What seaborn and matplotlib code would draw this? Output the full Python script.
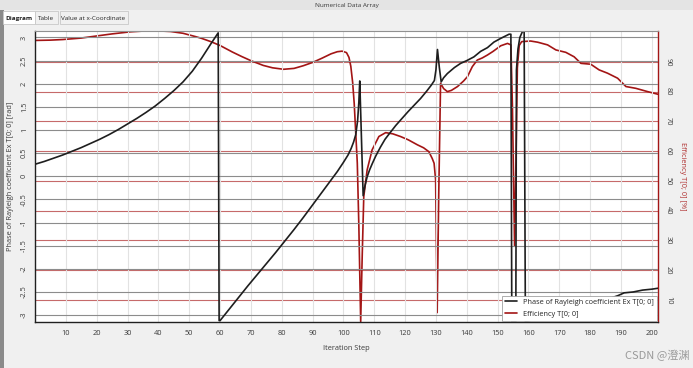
import matplotlib
matplotlib.use("Agg")
import matplotlib.pyplot as plt
import numpy as np
import seaborn as sns

# %% data
phase_step = [0, 3, 6, 9, 12, 15, 18, 21, 24, 27, 30, 33, 36, 39, 42, 45, 48, 51, 54, 57, 59.4, 59.7,
              60, 63, 66, 69, 72, 75, 78, 81, 84, 87, 90, 93, 96, 98, 100, 101.5, 102.5, 103.3,
              104, 104.6, 105, 105.3, 106.4,
              107, 107.7, 108.5, 109.4, 110.5, 112, 113.5, 115, 117, 119, 121, 123, 125, 127,
              128.5, 129.5, 130, 130.5, 131.1, 131.7, 132.5, 133.7, 136, 138, 140, 142.3, 144.5,
              146.7, 148.8, 151, 153.7, 154.3, 154.6,
              155.9, 156.1, 156.6, 157.2, 158, 158.6, 159, 175, 189, 191, 194, 197, 200, 202]
phase_rad = [0.26, 0.32, 0.39, 0.46, 0.54, 0.62, 0.71, 0.8, 0.9, 1.01, 1.13, 1.25, 1.38, 1.52, 1.68, 1.85, 2.04, 2.27, 2.55, 2.86, 3.1, -3.12,
             -3.12, -2.87, -2.62, -2.37, -2.13, -1.89, -1.65, -1.4, -1.15, -0.89, -0.62, -0.35, -0.08, 0.1, 0.3, 0.46, 0.6, 0.74,
             0.9, 1.2, 1.6, 2.06, -0.42,
             -0.2, -0.01, 0.14, 0.28, 0.44, 0.63, 0.8, 0.93, 1.1, 1.25, 1.4, 1.54, 1.68, 1.84,
             1.97, 2.07, 2.3, 2.74, 2.35, 2.04, 2.13, 2.22, 2.35, 2.44, 2.5, 2.58, 2.7,
             2.78, 2.9, 2.98, 3.07, 3.07, -3.14,
             -3.14, 2.3, 2.75, 3.0, 3.12, 3.14, -3.14, -2.9, -2.58, -2.52, -2.5, -2.46, -2.44, -2.42]

eff_step = [0, 5, 9, 15, 20, 25, 31, 36, 40, 44, 48, 52, 54, 57, 60, 64, 67, 70, 74, 77, 80.6,
            84, 87, 90, 93, 96, 98, 99.6, 101, 101.8, 102.4, 103, 103.5, 104, 104.5, 105, 105.6,
            106.1, 106.6, 107.7, 109.3, 111.5, 113.7, 116, 118.5, 121, 124, 126, 127.7, 128.8,
            129.4, 129.9, 130.4, 130.9, 131.5, 132.5, 133.7, 135, 137, 139, 140.2, 141.8, 143.4,
            145, 146.7, 148.5, 151, 153.2, 154.3, 154.8, 155.5, 156, 156.4, 157, 157.8, 160.7,
            163, 166.2, 168.9, 172.1, 174.8, 177, 180.2, 182.9, 185.6, 188.9, 191.6, 194.8,
            198.6, 202]
eff_pct = [97.2, 97.3, 97.5, 98.0, 98.7, 99.4, 100.1, 100.4, 100.4, 100.2, 99.6, 98.5, 97.9, 96.8, 95.5, 93.3, 91.8, 90.4, 88.8, 88.0, 87.5,
           87.8, 88.7, 89.8, 91.2, 92.7, 93.4, 93.6, 93.1, 91.5, 88.5, 83.0, 76.0, 66.0, 56.0, 35.0, 2.66,
           25.0, 44.7, 53.7, 60.4, 64.9, 66.2, 65.8, 64.9, 63.8, 62.1, 61.1, 59.8, 57.5,
           55.9, 50.3, 5.7, 45.0, 82.8, 81.0, 80.0, 80.4, 81.7, 83.6, 85.0, 88.4, 90.6,
           91.3, 92.3, 93.5, 95.4, 96.2, 95.7, 75.0, 28.0, 60.0, 88.0, 95.5, 96.8, 97.0,
           96.6, 95.7, 94.0, 93.2, 91.7, 89.5, 89.2, 87.3, 86.2, 84.5, 81.7, 81.1,
           80.0, 79.1]

x_ticks = list(range(10, 201, 10))
phase_ticks = [-3, -2.5, -2, -1.5, -1, -0.5, 0, 0.5, 1, 1.5, 2, 2.5, 3]
eff_ticks = [10, 20, 30, 40, 50, 60, 70, 80, 90]

phase_label = "Phase of Rayleigh coefficient Ex T[0; 0]"
eff_label = "Efficiency T[0; 0]"

# %% style
sns.set_style("white")
plt.rcParams["font.family"] = ["Open Sans", "DejaVu Sans"]

BLACK = "#1e1e1e"
RED = "#a31515"
txt = "#3a3a3a"

fig = plt.figure(figsize=(6.93, 3.68), dpi=100, facecolor="#f0f0f0")

# window chrome: title bar + tabs
fig.patches.append(plt.Rectangle((0, 0.972), 1, 0.028, transform=fig.transFigure,
                                 facecolor="#e4e4e4", edgecolor="none"))
fig.text(0.5, 0.986, "Numerical Data Array", ha="center", va="center",
         fontsize=4.6, color=txt)
fig.patches.append(plt.Rectangle((0.0, 0.0), 0.006, 0.972, transform=fig.transFigure,
                                 facecolor="#8a8a8a", edgecolor="none"))
tabs = [("Diagram", 0.005, 0.045, "white"), ("Table", 0.05, 0.034, "#f0f0f0"),
        ("Value at x-Coordinate", 0.086, 0.098, "#f0f0f0")]
for name, x0, w, fc in tabs:
    fig.patches.append(plt.Rectangle((x0, 0.934), w, 0.036, transform=fig.transFigure,
                                     facecolor=fc, edgecolor="#c8c8c8", lw=0.6))
    fig.text(x0 + w / 2, 0.951, name, ha="center", va="center", fontsize=4.6,
             color="#222222", fontweight="bold" if name == "Diagram" else "normal")

ax = fig.add_axes([0.0505, 0.126, 0.899, 0.790])
ax2 = ax.twinx()

# %% draw the two series
sns.lineplot(x=eff_step, y=eff_pct, ax=ax2, color=RED, lw=1.2, sort=False,
             estimator=None, label=eff_label, legend=False)
sns.lineplot(x=phase_step, y=phase_rad, ax=ax, color=BLACK, lw=1.2, sort=False,
             estimator=None, label=phase_label, legend=False)

ax.set_zorder(ax2.get_zorder() + 1)
ax.patch.set_visible(False)
ax2.patch.set_visible(True)
ax2.patch.set_facecolor("white")

ax.set_xlim(0, 202)
ax.set_ylim(-np.pi, np.pi)
ax2.set_ylim(2.66, 100.4)

ax.set_xticks(x_ticks)
ax.set_yticks(phase_ticks)
ax.set_yticklabels(["%g" % t for t in phase_ticks], rotation=90, va="center")
ax2.set_yticks(eff_ticks)
ax2.set_yticklabels([str(t) for t in eff_ticks], rotation=-90, va="center")

ax.tick_params(axis="both", length=0, labelsize=5.3, labelcolor=txt)
ax.tick_params(axis="x", pad=6)
ax.tick_params(axis="y", pad=5)
ax2.tick_params(axis="y", length=0, labelsize=5.3, labelcolor=txt, pad=5)

ax.grid(axis="y", color="#8c8c8c", lw=0.8)
ax.grid(axis="x", color="#e2e2e2", lw=0.8)
ax2.grid(axis="y", color="#c66a6a", lw=0.8)

for s in ["left", "bottom"]:
    ax.spines[s].set_color("#202020")
    ax.spines[s].set_linewidth(1.0)
ax.spines["top"].set_color("#909090")
ax.spines["top"].set_linewidth(0.8)
ax.spines["right"].set_visible(False)
ax2.spines["right"].set_color(RED)
ax2.spines["right"].set_linewidth(1.0)
for s in ["left", "top", "bottom"]:
    ax2.spines[s].set_visible(False)

ax.set_xlabel("Iteration Step", fontsize=5.3, color=txt, labelpad=6)
ax.set_ylabel("Phase of Rayleigh coefficient Ex T[0; 0] [rad]", fontsize=5.3,
              color=txt, labelpad=5)
ax2.set_ylabel("Efficiency T[0; 0] [%]", fontsize=5.3, color="#b03030",
               rotation=-90, labelpad=10)

h1, l1 = ax.get_legend_handles_labels()
h2, l2 = ax2.get_legend_handles_labels()
leg = ax.legend(h1 + h2, l1 + l2, loc="lower right", fontsize=5.3, frameon=True,
                fancybox=False, edgecolor="#a0a0a0", framealpha=1,
                borderaxespad=0.15, handlelength=1.6, labelspacing=0.6)
leg.get_frame().set_linewidth(0.6)

fig.text(0.995, 0.035, "CSDN @澄渊", ha="right", va="center", fontsize=8,
         color="#9a9a9a", family=["Noto Sans CJK SC", "DejaVu Sans"])

fig.savefig("out.png", dpi=100, facecolor=fig.get_facecolor())
